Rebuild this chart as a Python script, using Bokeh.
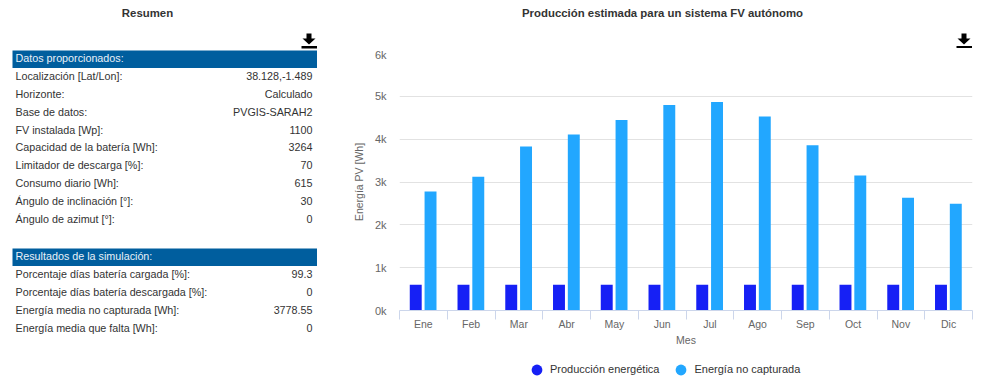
from bokeh.plotting import figure
from bokeh.layouts import row, column
from bokeh.embed import file_html
from bokeh.resources import INLINE
from bokeh.core.properties import value
from bokeh.models import ColumnDataSource, Range1d, LinearAxis, FixedTicker, Legend, LegendItem

FONT = "Liberation Sans"
meses = ["Ene", "Feb", "Mar", "Abr", "May", "Jun", "Jul", "Ago", "Sep", "Oct", "Nov", "Dic"]
produccion = [600, 600, 600, 600, 600, 600, 600, 600, 600, 600, 600, 600]
no_capturada = [2780, 3120, 3830, 4110, 4450, 4800, 4870, 4530, 3860, 3150, 2630, 2490]
y_ticks = [0, 1000, 2000, 3000, 4000, 5000, 6000]
y_tick_labels = ["0k", "1k", "2k", "3k", "4k", "5k", "6k"]

datos_labels = ["Localización [Lat/Lon]:", "Horizonte:", "Base de datos:", "FV instalada [Wp]:",
                "Capacidad de la batería [Wh]:", "Limitador de descarga [%]:", "Consumo diario [Wh]:",
                "Ángulo de inclinación [°]:", "Ángulo de azimut [°]:"]
datos_values = ["38.128,-1.489", "Calculado", "PVGIS-SARAH2", "1100", "3264", "70", "615", "30", "0"]
datos_y = [75, 93, 111, 129, 146.5, 164.5, 182, 200, 218]
res_labels = ["Porcentaje días batería cargada [%]:", "Porcentaje días batería descargada [%]:",
              "Energía media no capturada [Wh]:", "Energía media que falta [Wh]:"]
res_values = ["99.3", "0", "3778.55", "0"]
res_y = [273, 291, 309, 327]
TS = "10.75px"

def panel(w, h, xr, yr, **kw):
    f = figure(width=w, height=h, x_range=xr, y_range=yr, output_backend="svg", toolbar_location=None,
               x_axis_location=None, y_axis_location=None, outline_line_color=None, **kw)
    f.grid.visible = False
    return f

def icono(f, x0, y0):
    base_x = [5, 10, 10, 14, 7.5, 1, 5]
    base_y = [0, 0, 5, 5, 11, 5, 5]
    f.patch(x=[x0 + v for v in base_x], y=[y0 + v for v in base_y], color="black", line_color=None)
    f.quad(left=[x0], right=[x0 + 15.5], top=[y0 + 12.5], bottom=[y0 + 15], color="black", line_color=None)

# ---------- left panel: data coordinates equal page pixels ----------
left = panel(348, 376, Range1d(0, 348), Range1d(376, 0), min_border=0)
left.quad(left=[12, 12], right=[316.5, 316.5], top=[50, 248], bottom=[67.5, 265.5], color="#005e9e", line_color=None)
left.text(x=[15, 15], y=[57, 255.5], text=["Datos proporcionados:", "Resultados de la simulación:"],
          text_font=value(FONT), text_font_size=TS, text_color="#e8f0f8", text_baseline="middle")
left.text(x=[15] * 13, y=datos_y + res_y, text=datos_labels + res_labels, text_font=value(FONT),
          text_font_size=TS, text_color="#333333", text_baseline="middle")
left.text(x=[312] * 13, y=datos_y + res_y, text=datos_values + res_values, text_font=value(FONT),
          text_font_size=TS, text_color="#333333", text_baseline="middle", text_align="right")
left.text(x=[147], y=[12.5], text=["Resumen"], text_font=value(FONT), text_font_size="11.4px",
          text_font_style="bold", text_color="#333333", text_baseline="middle", text_align="center")
icono(left, 301, 33)

# ---------- right top strip: title and icon ----------
top = panel(652, 48, Range1d(399, 972), Range1d(48, 0),
            min_border_left=51, min_border_right=28, min_border_top=0, min_border_bottom=0)
top.text(x=[662], y=[12.5], text=["Producción estimada para un sistema FV autónomo"], text_font=value(FONT),
         text_font_size="11.4px", text_font_style="bold", text_color="#333333",
         text_baseline="middle", text_align="center")
icono(top, 956, 33)

# ---------- chart ----------
centros = [i + 0.5 for i in range(len(meses))]
src = ColumnDataSource(dict(x1=[c - 0.16 for c in centros], x2=[c + 0.15 for c in centros],
                            prod=produccion, nocap=no_capturada))
p = figure(width=652, height=300, x_range=Range1d(0, len(meses)), y_range=Range1d(0, 6000),
           output_backend="svg", toolbar_location=None, x_axis_location=None,
           min_border_left=51, min_border_right=28, min_border_top=5, min_border_bottom=37,
           outline_line_color=None)
p.xgrid.visible = False
p.ygrid.ticker = FixedTicker(ticks=y_ticks)
p.ygrid.grid_line_color = "#e2e2e2"

p.vbar(x="x1", top="prod", width=0.25, source=src, color="#1620f5", line_color=None)
p.vbar(x="x2", top="nocap", width=0.25, source=src, color="#22a7ff", line_color=None)

ya = p.yaxis[0]
ya.ticker = FixedTicker(ticks=y_ticks)
ya.major_label_overrides = dict(zip(y_ticks, y_tick_labels))
ya.axis_line_color = None
ya.major_tick_line_color = None
ya.minor_tick_line_color = None
ya.major_tick_out = 0
ya.major_tick_in = 0
ya.minor_tick_out = 0
ya.minor_tick_in = 0
ya.major_label_standoff = 13
ya.major_label_text_font = FONT
ya.major_label_text_font_size = "11px"
ya.major_label_text_color = "#666666"
ya.axis_label = "Energía PV [Wh]"
ya.axis_label_text_font = FONT
ya.axis_label_text_font_size = "10.5px"
ya.axis_label_text_font_style = "normal"
ya.axis_label_text_color = "#666666"
ya.axis_label_standoff = 7

edges = list(range(len(meses) + 1))
ea = LinearAxis(ticker=FixedTicker(ticks=edges), major_label_overrides={e: "" for e in edges})
ea.axis_line_color = "#ccd6eb"
ea.major_tick_line_color = "#ccd6eb"
ea.major_tick_out = 9
ea.major_tick_in = 0
ea.minor_tick_line_color = None
ea.major_label_standoff = 0
ea.major_label_text_font_size = "1px"
p.add_layout(ea, "below")

ca = LinearAxis(ticker=FixedTicker(ticks=centros), major_label_overrides=dict(zip(centros, meses)))
ca.axis_line_color = None
ca.major_tick_line_color = None
ca.minor_tick_line_color = None
ca.major_label_standoff = -8
ca.major_label_text_font = FONT
ca.major_label_text_font_size = "10.5px"
ca.major_label_text_color = "#666666"
ca.axis_label = "Mes"
ca.axis_label_text_font = FONT
ca.axis_label_text_font_size = "10.5px"
ca.axis_label_text_font_style = "normal"
ca.axis_label_text_color = "#666666"
ca.axis_label_standoff = 1
p.add_layout(ca, "below")

# ---------- legend strip ----------
bottom = panel(652, 28, Range1d(399, 972), Range1d(376, 348),
               min_border_left=51, min_border_right=28, min_border_top=0, min_border_bottom=0)
nada = [float("nan")]
l1 = bottom.scatter(x=nada, y=nada, marker="circle", color="#1620f5", line_color=None)
l2 = bottom.scatter(x=nada, y=nada, marker="circle", color="#22a7ff", line_color=None)
leg = Legend(items=[LegendItem(label="Producción energética", renderers=[l1]),
                    LegendItem(label="Energía no capturada", renderers=[l2])],
             orientation="horizontal", location=(124, -6.5), background_fill_alpha=0, border_line_color=None,
             label_text_font=FONT, label_text_font_size="11px", label_text_color="#333333",
             glyph_width=27, glyph_height=27, label_standoff=-5, spacing=8, margin=0, padding=0)
bottom.add_layout(leg, "center")

open("out.html", "w").write(file_html(row(left, column(top, p, bottom, spacing=0), spacing=0), INLINE))
